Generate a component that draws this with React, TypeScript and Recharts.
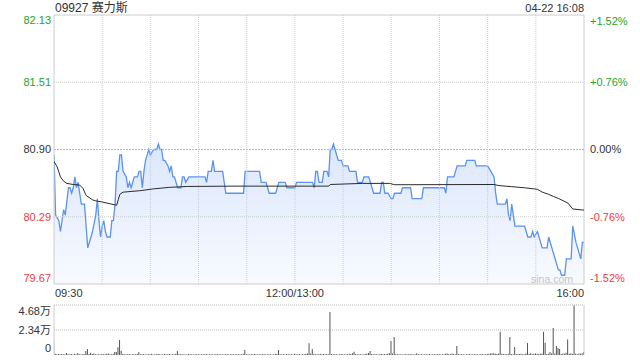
import React from 'react';
import { ComposedChart, Line, Area, Bar, XAxis, YAxis, ReferenceLine, ReferenceArea } from 'recharts';

const title = '09927 赛力斯';
const stamp = '04-22 16:08';
const watermark = 'sina.com';

const priceTicks = [79.67, 80.285, 80.9, 81.515, 82.13];
const priceTickLabels = ['79.67', '80.29', '80.90', '81.51', '82.13'];
const pctTicks = [-1.52, -0.76, 0, 0.76, 1.52];
const pctTickLabels = ['-1.52%', '-0.76%', '0.00%', '+0.76%', '+1.52%'];
const timeTicks = [0, 150, 330];
const timeTickLabels = ['09:30', '12:00/13:00', '16:00'];
const gridMinutes = [30, 60, 90, 120, 150, 180, 210, 240, 270, 300];
const volTicks = [0, 23400, 46800];
const volTickLabels = ['0', '2.34万', '4.68万'];

// minutes since 09:30 (trading time) and last price
const priceMinutes = [
  0, 1, 3, 4, 6, 7, 9, 10, 11, 12, 13, 14, 15, 16, 17, 19, 20, 21, 22, 24,
  26, 27, 28, 29, 30, 31, 32, 33, 35, 36, 37, 38, 39, 40, 41, 42, 43, 45, 46, 47,
  48, 49, 50, 52, 53, 54, 55, 56, 57, 59, 60, 62, 64, 65, 66, 67, 68, 69, 71, 72,
  73, 74, 75, 77, 79, 80, 81, 82, 84, 94, 95, 96, 98, 99, 100, 105, 107, 118, 119, 128,
  129, 132, 133, 134, 138, 140, 144, 145, 150, 151, 161, 162, 163, 164, 165, 167, 168, 170, 171, 172,
  173, 174, 175, 176, 177, 179, 180, 183, 184, 188, 189, 192, 193, 196, 199, 203, 204, 205, 206, 208,
  210, 211, 212, 216, 217, 222, 223, 229, 230, 243, 244, 245, 249, 251, 256, 257, 262, 263, 270, 272,
  274, 275, 276, 281, 282, 283, 284, 285, 287, 293, 294, 295, 297, 298, 299, 301, 302, 304, 307, 308,
  309, 311, 313, 314, 315, 316, 318, 319, 322, 323, 325, 326, 328, 329, 330,
];
const priceValues = [
  80.85, 80.3, 80.25, 80.15, 80.35, 80.3, 80.55, 80.55, 80.5, 80.55, 80.65, 80.55, 80.6, 80.5, 80.4, 80.4, 80.2, 80.0, 80.05, 80.15,
  80.3, 80.45, 80.25, 80.1, 80.2, 80.25, 80.15, 80.1, 80.1, 80.25, 80.25, 80.4, 80.7, 80.7, 80.85, 80.85, 80.7, 80.65, 80.55, 80.6,
  80.55, 80.6, 80.65, 80.65, 80.7, 80.7, 80.55, 80.7, 80.8, 80.9, 80.85, 80.9, 80.9, 80.95, 80.9, 80.9, 80.8, 80.8, 80.75, 80.7,
  80.75, 80.65, 80.65, 80.55, 80.55, 80.65, 80.65, 80.6, 80.65, 80.65, 80.6, 80.7, 80.7, 80.8, 80.7, 80.7, 80.5, 80.5, 80.7, 80.7,
  80.6, 80.6, 80.55, 80.5, 80.5, 80.6, 80.6, 80.55, 80.55, 80.6, 80.6, 80.55, 80.7, 80.7, 80.6, 80.6, 80.7, 80.7, 80.65, 80.9,
  80.9, 80.95, 80.9, 80.85, 80.8, 80.8, 80.75, 80.75, 80.7, 80.7, 80.6, 80.6, 80.65, 80.65, 80.5, 80.5, 80.6, 80.6, 80.5, 80.5,
  80.45, 80.45, 80.5, 80.5, 80.55, 80.55, 80.45, 80.45, 80.55, 80.55, 80.5, 80.65, 80.65, 80.75, 80.75, 80.8, 80.8, 80.75, 80.75, 80.7,
  80.65, 80.5, 80.4, 80.4, 80.45, 80.3, 80.25, 80.4, 80.2, 80.2, 80.15, 80.1, 80.1, 80.15, 80.1, 80.15, 80.1, 80.0, 80.0, 80.1,
  80.05, 79.95, 79.85, 79.8, 79.8, 79.75, 79.75, 79.9, 79.9, 80.2, 80.05, 80.0, 79.9, 80.05, 80.05,
];

// average price line
const avgMinutes = [
  0, 2, 4, 6, 8, 12, 16, 18, 20, 24, 26, 30, 33, 36, 39, 40, 41, 43, 54, 62,
  72, 83, 112, 171, 172, 192, 209, 212, 221, 274, 277, 285, 293, 301, 304, 308, 311, 314, 320, 323,
  329, 330,
];
const avgValues = [
  80.79, 80.74, 80.65, 80.61, 80.59, 80.58, 80.575, 80.545, 80.48, 80.44, 80.43, 80.42, 80.41, 80.4, 80.39, 80.44, 80.49, 80.51, 80.524, 80.54,
  80.554, 80.562, 80.565, 80.565, 80.58, 80.59, 80.59, 80.578, 80.578, 80.58, 80.57, 80.56, 80.55, 80.536, 80.51, 80.49, 80.47, 80.453, 80.41, 80.356,
  80.347, 80.347,
];

// per-minute volume (shares), minute 0..330
const volumes = [
  13400, 1200, 800, 900, 700, 1000, 600, 800, 1900, 700,
  600, 900, 500, 1200, 700, 1900, 600, 800, 700, 1000,
  3700, 5600, 1000, 2200, 900, 1500, 700, 600, 800, 500,
  900, 700, 600, 1100, 1500, 600, 800, 900, 2800, 2800,
  7200, 14000, 4000, 1000, 800, 700, 600, 900, 500, 700,
  600, 800, 1000, 2800, 700, 600, 900, 500, 800, 700,
  600, 1100, 500, 800, 700, 900, 600, 500, 800, 1000,
  700, 600, 900, 500, 700, 800, 1200, 3700, 900, 700,
  600, 800, 500, 700, 900, 600, 800, 500, 700, 600,
  900, 500, 800, 700, 600, 1000, 500, 700, 800, 600,
  500, 900, 700, 600, 800, 500, 700, 600, 900, 500,
  700, 800, 600, 500, 900, 700, 600, 800, 1200, 4700,
  700, 600, 500, 800, 700, 900, 600, 500, 700, 800,
  600, 900, 500, 700, 600, 800, 500, 700, 900, 1100,
  4700, 800, 600, 700, 500, 900, 600, 800, 700, 500,
  1200, 700, 600, 900, 500, 800, 700, 1200, 1500, 10900,
  1300, 5600, 900, 700, 600, 800, 1100, 700, 900, 600,
  1000, 800, 40300, 900, 700, 600, 800, 500, 700, 900,
  600, 700, 500, 800, 1200, 900, 1600, 3100, 900, 700,
  600, 800, 700, 500, 900, 1200, 1800, 3700, 900, 700,
  600, 800, 500, 700, 900, 600, 1000, 800, 1200, 1600,
  13100, 1400, 16800, 900, 700, 600, 800, 500, 700, 600,
  800, 700, 600, 900, 500, 700, 1600, 800, 600, 700,
  500, 800, 600, 700, 900, 500, 600, 800, 700, 600,
  900, 500, 700, 800, 1100, 1300, 900, 700, 1400, 1000,
  800, 8400, 900, 700, 600, 800, 500, 700, 600, 900,
  500, 700, 800, 600, 700, 500, 900, 600, 800, 700,
  900, 1100, 1300, 1500, 1600, 1200, 900, 1400, 21800, 1200,
  900, 700, 800, 1100, 16800, 900, 800, 7500, 1000, 700,
  900, 1200, 800, 700, 1300, 11200, 900, 1600, 800, 1100,
  1500, 1200, 900, 1100, 1300, 21800, 11500, 900, 1200, 2800,
  1500, 25300, 1100, 8400, 6500, 5600, 900, 1400, 1200, 2200,
  14400, 1100, 1600, 900, 46500, 1200, 800, 1500, 1200, 1600,
  2800,
];

const FONT = '"Liberation Sans", Arial, "Noto Sans CJK SC", sans-serif';
const UP = '#25a525';
const DOWN = '#f03c3c';
const NEUTRAL = '#333333';
const GRID = '#cccccc';
const BLUE = '#5b93ef';

const priceData = priceMinutes.map((t, i) => ({ t, price: priceValues[i] }));
const avgData = avgMinutes.map((t, i) => ({ t, avg: avgValues[i] }));
const volData = volumes.map((v, i) => ({ t: i, vol: v }));

const labelColor = (i: number) => (i < 2 ? DOWN : i === 2 ? NEUTRAL : UP);

const LeftTick = (props: any) => {
  const { x, y, payload } = props;
  const i = priceTicks.indexOf(payload.value);
  const shift = i === priceTicks.length - 1 ? 5 : i === 0 ? -6 : 0;
  return (
    <text x={x} y={y + shift} dy="0.35em" textAnchor="end" fontSize={11} fill={labelColor(i)} fontFamily={FONT}>
      {priceTickLabels[i]}
    </text>
  );
};

const RightTick = (props: any) => {
  const { x, y, payload } = props;
  const i = pctTicks.indexOf(payload.value);
  const shift = i === pctTicks.length - 1 ? 6 : i === 0 ? -6 : 0;
  return (
    <text x={x} y={y + shift} dy="0.35em" textAnchor="start" fontSize={11} fill={labelColor(i)} fontFamily={FONT}>
      {pctTickLabels[i]}
    </text>
  );
};

const TimeTick = (props: any) => {
  const { x, y, payload } = props;
  const i = timeTicks.indexOf(payload.value);
  const anchor = i === 0 ? 'start' : i === timeTicks.length - 1 ? 'end' : 'middle';
  return (
    <text x={x + (i === 0 ? 1 : 0)} y={y + 9} dy="0.35em" textAnchor={anchor} fontSize={11} fill={NEUTRAL} fontFamily={FONT}>
      {timeTickLabels[i]}
    </text>
  );
};

const VolTick = (props: any) => {
  const { x, y, payload } = props;
  const i = volTicks.indexOf(payload.value);
  const shift = i === volTicks.length - 1 ? 6 : i === 0 ? -7 : 0;
  return (
    <text x={x} y={y + shift} dy="0.35em" textAnchor="end" fontSize={11} fill={NEUTRAL} fontFamily={FONT}>
      {volTickLabels[i]}
    </text>
  );
};

export default function App() {
  return (
    <div style={{ position: 'absolute', left: 0, top: 0, width: 640, height: 360, background: '#fff', overflow: 'hidden' }}>
      <div style={{ position: 'absolute', left: 0, top: 0 }}>
        <ComposedChart width={640} height={300} margin={{ top: 15, right: 0, bottom: 0, left: 0 }}>
          <defs>
            <linearGradient id="priceFill" x1="0" y1="0" x2="0" y2="1">
              <stop offset="0%" stopColor="#dbe7fc" />
              <stop offset="100%" stopColor="#f8faff" />
            </linearGradient>
          </defs>
          <XAxis
            dataKey="t"
            type="number"
            domain={[0, 330]}
            allowDataOverflow
            ticks={timeTicks}
            interval={0}
            height={16}
            axisLine={false}
            tickLine={false}
            tickSize={0}
            tickMargin={0}
            tick={<TimeTick />}
          />
          <YAxis
            yAxisId="l"
            orientation="left"
            width={54}
            type="number"
            domain={[79.67, 82.13]}
            allowDataOverflow
            ticks={priceTicks}
            interval={0}
            axisLine={false}
            tickLine={false}
            tickSize={0}
            tickMargin={3}
            tick={<LeftTick />}
          />
          <YAxis
            yAxisId="r"
            orientation="right"
            width={56}
            type="number"
            domain={[-1.52, 1.52]}
            allowDataOverflow
            ticks={pctTicks}
            interval={0}
            axisLine={false}
            tickLine={false}
            tickSize={0}
            tickMargin={6}
            tick={<RightTick />}
          />
          {gridMinutes.map((m) => (
            <ReferenceLine key={'v' + m} yAxisId="l" x={m} stroke={GRID} strokeDasharray="1 1" />
          ))}
          <ReferenceLine yAxisId="l" y={priceTicks[1]} stroke={GRID} strokeDasharray="1 1" />
          <ReferenceLine yAxisId="l" y={priceTicks[2]} stroke="#bbbbbb" strokeDasharray="2 1" />
          <ReferenceLine yAxisId="l" y={priceTicks[3]} stroke={GRID} strokeDasharray="1 1" />
          <Area
            yAxisId="l"
            data={priceData}
            dataKey="price"
            type="linear"
            stroke={BLUE}
            strokeWidth={1.3}
            fill="url(#priceFill)"
            fillOpacity={1}
            dot={false}
            activeDot={false}
            isAnimationActive={false}
          />
          <Line
            yAxisId="l"
            data={avgData}
            dataKey="avg"
            type="linear"
            stroke="#2b2b2b"
            strokeWidth={1}
            dot={false}
            activeDot={false}
            isAnimationActive={false}
          />
          <ReferenceArea yAxisId="l" x1={0} x2={330} y1={79.67} y2={82.13} fill="none" stroke={GRID} strokeWidth={1} />
        </ComposedChart>
      </div>
      <div style={{ position: 'absolute', left: 0, top: 300 }}>
        <ComposedChart width={640} height={60} data={volData} margin={{ top: 5, right: 56, bottom: 5, left: 0 }}>
          <XAxis dataKey="t" type="number" domain={[0, 330]} allowDataOverflow hide />
          <YAxis
            width={54}
            type="number"
            domain={[0, 46800]}
            allowDataOverflow
            ticks={volTicks}
            interval={0}
            axisLine={false}
            tickLine={false}
            tickSize={0}
            tickMargin={3}
            tick={<VolTick />}
          />
          <ReferenceLine y={volTicks[2]} stroke="#bbbbbb" strokeDasharray="1 1" />
          <ReferenceLine y={volTicks[1]} stroke="#bbbbbb" strokeDasharray="1 1" />
          <ReferenceLine x={0} stroke={GRID} />
          <ReferenceLine x={330} stroke={GRID} />
          <Bar dataKey="vol" fill="#555555" barSize={1} isAnimationActive={false} />
        </ComposedChart>
      </div>
      <svg width={640} height={360} style={{ position: 'absolute', left: 0, top: 0, pointerEvents: 'none' }}>
        <text x={55} y={12} fontSize={12} fill={NEUTRAL} fontFamily={FONT}>{title}</text>
        <text x={584} y={12} fontSize={11} fill={NEUTRAL} fontFamily={FONT} textAnchor="end">{stamp}</text>
        <text x={573} y={283} fontSize={10.5} fill="#c4c4c4" fontFamily={FONT} textAnchor="end">{watermark}</text>
      </svg>
    </div>
  );
}
